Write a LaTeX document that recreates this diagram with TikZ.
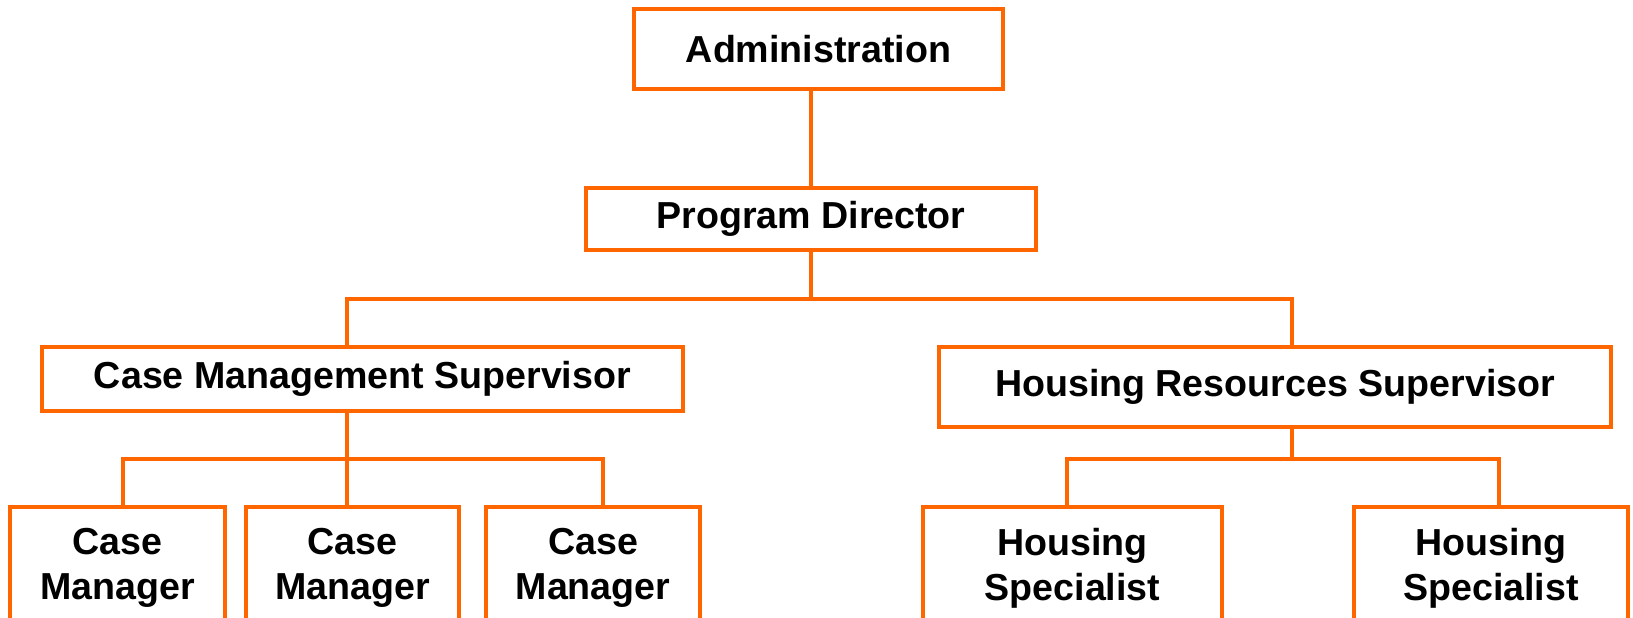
\documentclass[tikz,border=0pt]{standalone}
\usepackage{fontspec}
\setmainfont{Liberation Sans}
\definecolor{orgline}{RGB}{255,102,0}
\begin{document}
\begin{tikzpicture}[x=0.5pt,y=-0.5pt,line join=miter,line width=1.75pt]
 \tikzset{box/.style={draw=orgline,rectangle,inner sep=2pt,align=center,font=\fontsize{18.8}{22.5}\selectfont\bfseries},
  link/.style={draw=orgline}}
 \useasboundingbox (0,0) rectangle (1633,617);
 \clip (0,0) rectangle (1633,617);
 \node[box,minimum width=184.5pt,minimum height=40pt] (admin) at (818.5,49) {Administration};
 \node[box,minimum width=225pt,minimum height=31pt] (pd) at (811,219) {Program Director};
 \node[box,minimum width=320.5pt,minimum height=32pt] (cms) at (362.5,379) {Case Management Supervisor};
 \node[box,minimum width=336pt,minimum height=40pt] (hrs) at (1275,387) {Housing Resources Supervisor};
 \foreach \n/\x/\w in {1/117.5/107.5,2/352.5/106.5,3/593/107}
  \node[box,minimum width=\w pt,minimum height=61pt] (cm\n) at (\x,568) {Case\\Manager};
 \node[box,minimum width=149.5pt,minimum height=61pt] (hs1) at (1072.5,568) {Housing\\Specialist};
 \node[box,minimum width=137pt,minimum height=61pt] (hs2) at (1491,568) {Housing\\Specialist};
 \coordinate (topbus) at (811,299);
 \coordinate (cmsjoin) at (347,299);
 \coordinate (hrsjoin) at (1292,299);
 \coordinate (cmbus) at (347,459);
 \coordinate (cmleft) at (123,459);
 \coordinate (cmright) at (603,459);
 \coordinate (hsbus) at (1292,459);
 \coordinate (hsleft) at (1067,459);
 \coordinate (hsright) at (1499,459);
 \draw[link] (admin.south -| pd.north) -- (pd.north);
 \draw[link] (pd.south) -- (topbus);
 \draw[link] (cms.north -| cmsjoin) -- (cmsjoin) -- (hrsjoin) -- (hrs.north -| hrsjoin);
 \draw[link] (cms.south -| cmbus) -- (cmbus) -- (cm2.north -| cmbus);
 \draw[link] (cm1.north -| cmleft) -- (cmleft) -- (cmright) -- (cm3.north -| cmright);
 \draw[link] (hrs.south -| hsbus) -- (hsbus);
 \draw[link] (hs1.north -| hsleft) -- (hsleft) -- (hsright) -- (hs2.north -| hsright);
\end{tikzpicture}
\end{document}
